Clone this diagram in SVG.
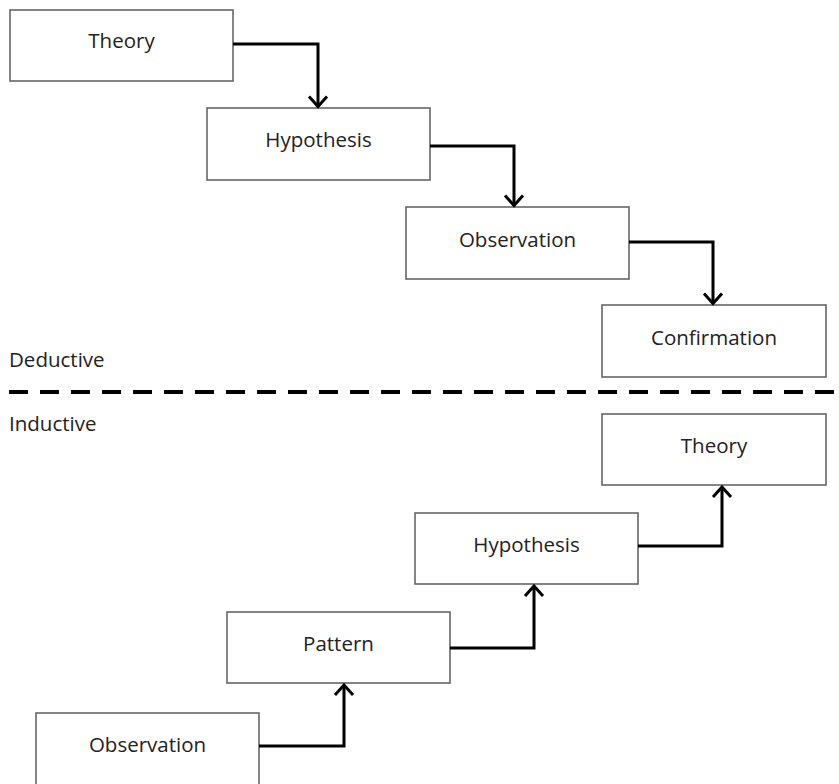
<svg xmlns="http://www.w3.org/2000/svg" width="839" height="784" viewBox="0 0 839 784">
<defs>
<style>
.box{fill:#fff;stroke:#666;stroke-width:1.6}
.lbl{font-family:"Open Sans","Noto Sans","Liberation Sans",sans-serif;font-size:20.5px;fill:#222;text-anchor:middle}
.side{font-family:"Open Sans","Noto Sans","Liberation Sans",sans-serif;font-size:20.5px;fill:#222}
.conn{fill:none;stroke:#000;stroke-width:3;marker-end:url(#arr)}
</style>
<marker id="arr" markerUnits="userSpaceOnUse" markerWidth="24" markerHeight="24" viewBox="-12 -12 24 24" refX="0" refY="0" orient="auto" overflow="visible">
<path d="M-10,-9 L0,0 L-10,9" fill="none" stroke="#000" stroke-width="3"/>
</marker>
</defs>
<rect width="839" height="784" fill="#fff"/>
<g id="ded-theory"><rect class="box" x="10" y="10" width="223" height="71"/><text class="lbl" x="121.5" y="48">Theory</text></g>
<g id="ded-hypothesis"><rect class="box" x="207" y="108" width="223" height="72"/><text class="lbl" x="318.5" y="147">Hypothesis</text></g>
<g id="ded-observation"><rect class="box" x="406" y="207" width="223" height="72"/><text class="lbl" x="517.5" y="247">Observation</text></g>
<g id="ded-confirmation"><rect class="box" x="602" y="305" width="224" height="72"/><text class="lbl" x="714" y="345">Confirmation</text></g>
<g id="ind-theory"><rect class="box" x="602" y="414" width="224" height="71"/><text class="lbl" x="714" y="453">Theory</text></g>
<g id="ind-hypothesis"><rect class="box" x="415" y="513" width="223" height="71"/><text class="lbl" x="526.5" y="552">Hypothesis</text></g>
<g id="ind-pattern"><rect class="box" x="227" y="612" width="223" height="71"/><text class="lbl" x="338.5" y="651">Pattern</text></g>
<g id="ind-observation"><rect class="box" x="36" y="713" width="223" height="80"/><text class="lbl" x="147.5" y="752">Observation</text></g>
<g id="labels">
<text class="side" x="9" y="367">Deductive</text>
<text class="side" x="9" y="431">Inductive</text>
<line x1="9" y1="392" x2="839" y2="392" stroke="#000" stroke-width="4" stroke-dasharray="19 12"/>
</g>
<g id="connectors">
<path class="conn" d="M233,44 H318 V106.5"/>
<path class="conn" d="M430,146 H514 V205.5"/>
<path class="conn" d="M629,242 H713 V303.5"/>
<path class="conn" d="M259,746 H344 V685"/>
<path class="conn" d="M450,648 H534 V586"/>
<path class="conn" d="M638,546 H722 V487"/>
</g>
</svg>
